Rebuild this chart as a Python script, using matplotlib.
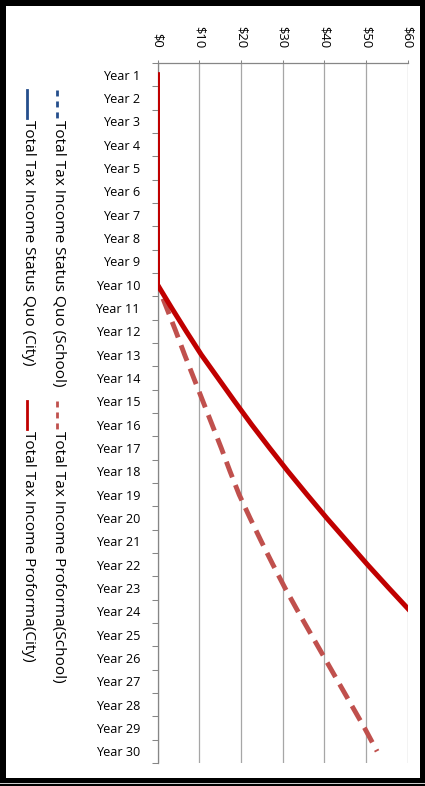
import matplotlib
matplotlib.use("Agg")
import matplotlib.pyplot as plt
from matplotlib.lines import Line2D
from matplotlib.patches import Rectangle
from matplotlib.ticker import FixedLocator
import numpy as np

plt.rcParams['font.family'] = ['Open Sans', 'DejaVu Sans']
plt.rcParams['lines.scale_dashes'] = False

# ---------------- data ----------------
years = ["Year 1", "Year 2", "Year 3", "Year 4", "Year 5", "Year 6", "Year 7",
         "Year 8", "Year 9", "Year 10", "Year 11", "Year 12", "Year 13", "Year 14",
         "Year 15", "Year 16", "Year 17", "Year 18", "Year 19", "Year 20",
         "Year 21", "Year 22", "Year 23", "Year 24", "Year 25", "Year 26",
         "Year 27", "Year 28", "Year 29", "Year 30"]

status_quo_school = [0, 0, 0, 0, 0, 0, 0, 0, 0, 0,
                     None, None, None, None, None, None, None, None, None, None,
                     None, None, None, None, None, None, None, None, None, None]
status_quo_city = [0, 0, 0, 0, 0, 0, 0, 0, 0, 0,
                   None, None, None, None, None, None, None, None, None, None,
                   None, None, None, None, None, None, None, None, None, None]
proforma_school = [0, 0, 0, 0, 0, 0, 0, 0, 0, 0,
                   2.2, 4.4, 6.5, 8.7, 10.9, 13.1, 15.3, 17.4, 19.6, 22.2,
                   24.9, 27.7, 30.6, 33.7, 36.9, 40.1, 43.3, 46.5, 49.7, 52.7]
proforma_city = [0, 0, 0, 0, 0, 0, 0, 0, 0, 0,
                 3.4, 6.9, 10.5, 14.5, 18.5, 22.6, 26.9, 31.3, 35.9, 40.6,
                 45.5, 50.4, 55.5, 60.7, 66.0, 71.5, 77.2, 83.1, 89.2, 95.5]

value_ticks = [0, 10, 20, 30, 40, 50, 60]
value_labels = ["$0", "$10", "$20", "$30", "$40", "$50", "$60"]

legend_names = ["Total Tax Income Status Quo (School)", "Total Tax Income Proforma(School)",
                "Total Tax Income Status Quo (City)", "Total Tax Income Proforma(City)"]

# ---------------- figure ----------------
W, H = 425, 786
DPI = 100
fig = plt.figure(figsize=(W / DPI, H / DPI), dpi=DPI, facecolor="black")

def fx(px):
    return px / W

def fy(py):
    return 1 - py / H

# white chart area inside black frame
fig.add_artist(Rectangle((fx(6), fy(778)), fx(414), 772 / H,
                         transform=fig.transFigure, facecolor="white",
                         edgecolor="none", zorder=0))
fig.add_artist(Line2D([fx(0), fx(425)], [fy(782.5), fy(782.5)],
                      transform=fig.transFigure, color="#d0d0d0", lw=0.7, zorder=1))

ax_l, ax_r, ax_t, ax_b = 157.5, 407.5, 63, 763
ax = fig.add_axes([fx(ax_l), fy(ax_b), (ax_r - ax_l) / W, (ax_b - ax_t) / H])
ax.set_facecolor("none")

pos = np.arange(len(years))

def arr(v):
    return np.array([np.nan if x is None else x for x in v], dtype=float)

ax.plot(arr(status_quo_school), pos, color="#254E8C", lw=2, ls=(0, (5, 4)), zorder=2)
ax.plot(arr(status_quo_city), pos, color="#254E8C", lw=2, zorder=2)
ax.plot(arr(proforma_school), pos, color="#C0504D", lw=3.5, ls=(0, (12, 6)),
        zorder=3, dash_capstyle="butt")
ax.plot(arr(proforma_city), pos, color="#C00000", lw=3.6, zorder=4,
        solid_joinstyle="round")

ax.set_xlim(0, 60)
ax.set_ylim(len(years) - 0.5, -0.5)

# value axis on top
ax.xaxis.set_ticks_position("top")
ax.set_xticks(value_ticks)
ax.set_xticklabels(value_labels, rotation=270, fontsize=9.4, color="black")
ax.tick_params(axis="x", which="major", direction="out", length=2.2, width=0.75,
               color="#868686", pad=8.5)
ax.grid(axis="x", color="#A6A6A6", lw=0.9)
ax.set_axisbelow(True)

# category axis on left
ax.set_yticks(pos)
ax.set_yticklabels(years, fontsize=9.1, color="black")
ax.yaxis.set_minor_locator(FixedLocator(np.arange(-0.5, len(years), 1.0)))
ax.tick_params(axis="y", which="major", length=0, pad=12.5)
ax.tick_params(axis="y", which="minor", direction="out", length=4.3, width=0.75,
               color="#868686")

for s in ("right", "bottom"):
    ax.spines[s].set_visible(False)
for s in ("top", "left"):
    ax.spines[s].set_color("#868686")
    ax.spines[s].set_linewidth(0.9)

# ---------------- rotated legend ----------------
leg_fs = 11.1
col_x = {"school": 57, "city": 27}
dash3 = (0, (4.3, 3.6))
entries = [
    ("school", 90, 118, "#254E8C", dash3, legend_names[0]),
    ("school", 401, 429, "#C0504D", dash3, legend_names[1]),
    ("city", 90, 118, "#254E8C", "-", legend_names[2]),
    ("city", 401, 429, "#C00000", "-", legend_names[3]),
]
for col, y0, y1, colr, ls, name in entries:
    x = col_x[col]
    fig.add_artist(Line2D([fx(x), fx(x)], [fy(y0), fy(y1)], transform=fig.transFigure,
                          color=colr, lw=2, ls=ls, zorder=5, dash_capstyle="butt"))
    fig.text(fx(x + 1.5), fy(y1 + 2), name, rotation=270, ha="center", va="top",
             fontsize=leg_fs, color="black", zorder=5)

fig.savefig("out.png", dpi=DPI, facecolor="black")
